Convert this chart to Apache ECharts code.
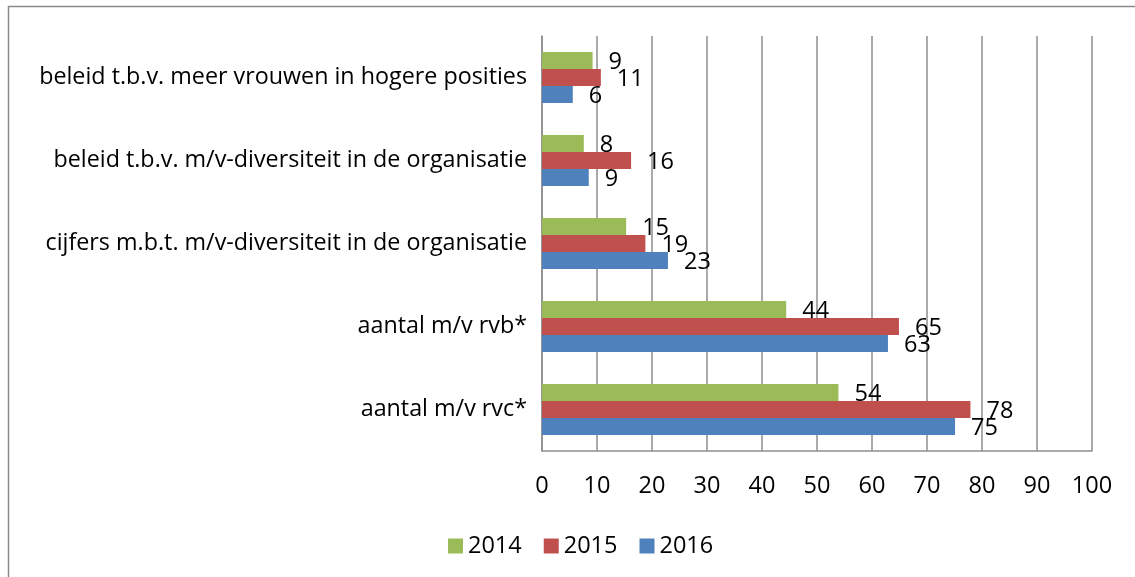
<!DOCTYPE html>
<html>
<head>
<meta charset="utf-8">
<script src="https://cdn.jsdelivr.net/npm/echarts@6/dist/echarts.min.js"></script>
<style>
  html, body { margin: 0; padding: 0; background: #fff; }
  #chart { width: 1135px; height: 577px; }
</style>
</head>
<body>
<div id="chart"></div>
<script>
// categories bottom-to-top (as the y axis draws them)
var categories = [
  'aantal m/v rvc*',
  'aantal m/v rvb*',
  'cijfers m.b.t. m/v-diversiteit in de organisatie',
  'beleid t.b.v. m/v-diversiteit in de organisatie',
  'beleid t.b.v. meer vrouwen in hogere posities'
];
var years = ['2014', '2015', '2016'];
var values2014 = [53.9, 44.4, 15.3, 7.6, 9.2];
var values2015 = [77.9, 64.9, 18.8, 16.2, 10.7];
var values2016 = [75.1, 62.9, 22.9, 8.5, 5.6];
var colors = { '2014': '#9BBB59', '2015': '#C0504D', '2016': '#4F81BD' };
var xTicks = [0, 100, 10];

var font = 'Open Sans';
var myChart = echarts.init(document.getElementById('chart'));

function barSeries(name, data) {
  return {
    name: name,
    type: 'bar',
    data: data,
    barGap: '0%',
    barCategoryGap: '38.5%',
    itemStyle: { color: colors[name] },
    label: {
      show: true,
      position: 'right',
      distance: 16,
      offset: [0, 2],
      color: '#000',
      fontFamily: font,
      fontSize: 23.5,
      formatter: function (p) { return Math.round(p.value); }
    }
  };
}

var option = {
  animation: false,
  textStyle: { fontFamily: font },
  graphic: [{
    type: 'rect',
    shape: { x: 8.5, y: 6.5, width: 1300, height: 800 },
    style: { fill: 'none', stroke: '#8a8a8a', lineWidth: 1.5 },
    silent: true
  }],
  grid: { left: 542, right: 43, top: 36, bottom: 126, containLabel: false },
  legend: {
    data: years,
    left: 443,
    top: 529,
    itemWidth: 15,
    itemHeight: 15,
    itemGap: 22,
    icon: 'rect',
    textStyle: { fontFamily: font, fontSize: 23.5, color: '#000' }
  },
  xAxis: {
    type: 'value',
    min: xTicks[0],
    max: xTicks[1],
    interval: xTicks[2],
    axisLine: { show: true, lineStyle: { color: '#8e8e8e', width: 1.5 } },
    axisTick: { show: false },
    axisLabel: { color: '#000', fontFamily: font, fontSize: 23.5, margin: 23 },
    splitLine: { show: true, lineStyle: { color: '#8e8e8e', width: 1.5 } }
  },
  yAxis: {
    type: 'category',
    data: categories,
    axisLine: { show: true, lineStyle: { color: '#8e8e8e', width: 1.5 } },
    axisTick: { show: false },
    axisLabel: { color: '#000', fontFamily: font, fontSize: 23.3, margin: 15 }
  },
  series: [
    barSeries('2014', values2014),
    barSeries('2015', values2015),
    barSeries('2016', values2016)
  ]
};

myChart.setOption(option);
</script>
</body>
</html>
